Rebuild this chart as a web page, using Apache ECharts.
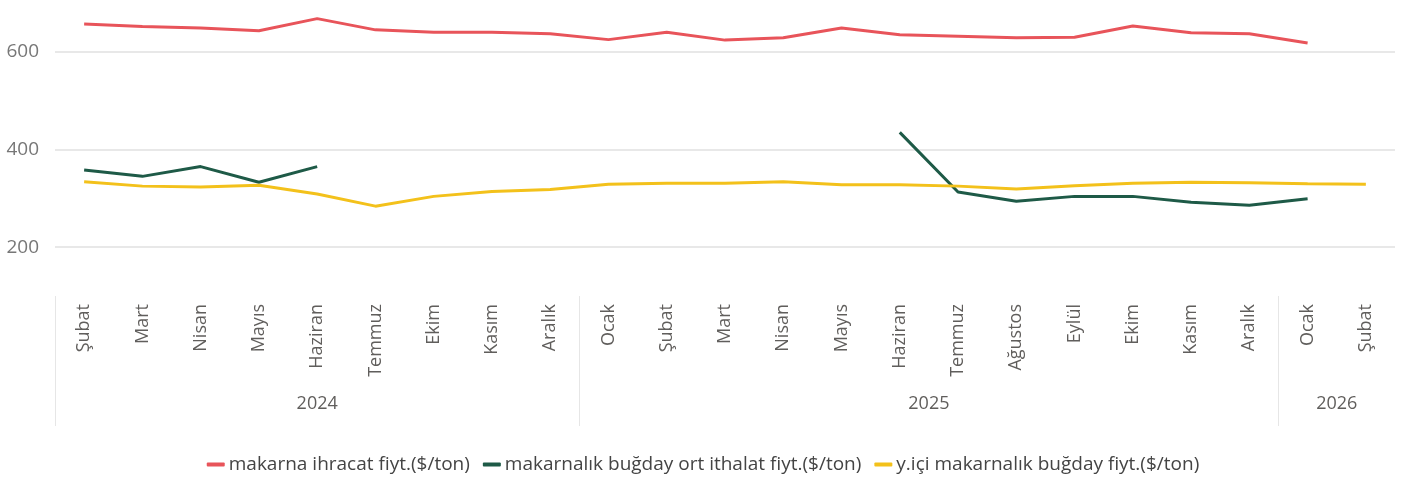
<!DOCTYPE html>
<html>
<head>
<meta charset="utf-8">
<script src="https://cdn.jsdelivr.net/npm/echarts@6/dist/echarts.min.js"></script>
<style>html,body{margin:0;padding:0;background:#fff}#c{width:1406px;height:480px}</style>
</head>
<body>
<div id="c"></div>
<script>
const months = ["Şubat","Mart","Nisan","Mayıs","Haziran","Temmuz","Ekim","Kasım","Aralık",
  "Ocak","Şubat","Mart","Nisan","Mayıs","Haziran","Temmuz","Ağustos","Eylül","Ekim","Kasım","Aralık",
  "Ocak","Şubat"];
const years = ["2024","2025","2026"];
const yearCenters = [4, 14.5, 21.5];
const yearBounds = [-0.5, 8.5, 20.5];
const yTicks = [200, 400, 600];
const seriesNames = ["makarna ihracat fiyt.($/ton)","makarnalık buğday ort ithalat fiyt.($/ton)","y.içi makarnalık buğday fiyt.($/ton)"];
const makarnaIhracat = [657,652,649,643,668,645,640,640,637,625,640,624,629,649,635,632,629,630,653,639,637,618,null];
const ithalat = [358,345,365,333,365,null,null,null,null,null,null,null,null,null,435,313,294,304,304,292,286,299,null];
const yurtici = [334,325,323,327,309,284,304,314,318,329,331,331,334,328,328,325,319,326,331,333,332,330,329];
const colors = ["#E8545A","#1E5A47","#F3C11B"];

const font = "'Open Sans', 'Noto Sans', sans-serif";
const chart = echarts.init(document.getElementById('c'));
chart.setOption({
  animation: false,
  color: colors,
  grid: {left: 55, right: 11, top: 3, bottom: 184},
  legend: {
    bottom: 1, left: 'center',
    itemWidth: 18, itemHeight: 4, itemGap: 13,
    icon: 'roundRect',
    textStyle: {fontFamily: font, fontSize: 19, color: '#444', padding: [0, 0, 0, -1]},
    data: seriesNames
  },
  xAxis: [{
    type: 'category', data: months, boundaryGap: true,
    axisLine: {show: false}, axisTick: {show: false},
    axisLabel: {rotate: 90, margin: 8, interval: 0, fontFamily: font, fontSize: 18, color: '#605E5C'}
  }, {
    type: 'value', min: -0.5, max: 22.5, position: 'bottom',
    axisLine: {show: false}, splitLine: {show: false},
    axisTick: {show: true, customValues: yearBounds, length: 130, lineStyle: {color: '#E6E6E6', width: 1}},
    axisLabel: {customValues: yearCenters, margin: 99, fontFamily: font, fontSize: 18, color: '#605E5C',
      formatter: v => years[yearCenters.indexOf(v)]}
  }],
  yAxis: {
    type: 'value', min: 100, max: 700,
    axisLine: {show: false},
    axisTick: {show: false, customValues: yTicks},
    axisLabel: {customValues: yTicks, margin: 16, fontFamily: font, fontSize: 19, color: '#777'},
    splitLine: {show: true, lineStyle: {color: '#E8E8E8', width: 2}}
  },
  series: [
    {name: seriesNames[0], type: 'line', data: makarnaIhracat, showSymbol: false, lineStyle: {width: 3}, connectNulls: false},
    {name: seriesNames[1], type: 'line', data: ithalat, showSymbol: false, lineStyle: {width: 3}, connectNulls: false},
    {name: seriesNames[2], type: 'line', data: yurtici, showSymbol: false, lineStyle: {width: 3}, connectNulls: false}
  ]
});
</script>
</body>
</html>
